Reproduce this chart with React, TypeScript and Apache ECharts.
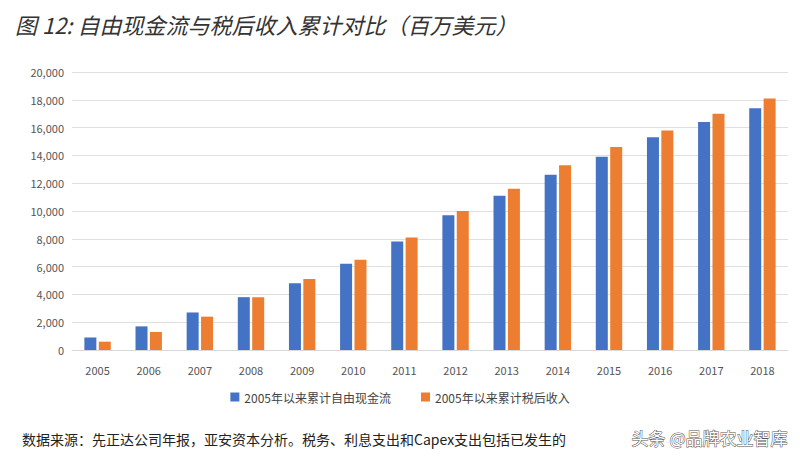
import { useEffect, useRef } from 'react';
import * as echarts from 'echarts';

const years = ['2005', '2006', '2007', '2008', '2009', '2010', '2011', '2012', '2013', '2014', '2015', '2016', '2017', '2018'];
const fcfCum = [900, 1700, 2700, 3800, 4800, 6200, 7800, 9700, 11100, 12600, 13900, 15300, 16400, 17400];
const netIncomeCum = [600, 1300, 2400, 3800, 5100, 6500, 8100, 10000, 11600, 13300, 14600, 15800, 17000, 18100];

const font = '"Noto Sans CJK SC", "Noto Sans", sans-serif';

export default function App() {
  const ref = useRef<HTMLDivElement>(null);

  useEffect(() => {
    if (!ref.current) return;
    const chart = echarts.init(ref.current, null, { renderer: 'svg' });
    chart.setOption({
      animation: false,
      backgroundColor: '#fff',
      textStyle: { fontFamily: font },
      title: {
        text: '图 12: 自由现金流与税后收入累计对比（百万美元）',
        left: 10,
        top: 8,
        textStyle: { fontSize: 22, fontStyle: 'italic', fontWeight: 'normal', color: '#333', fontFamily: font }
      },
      grid: { left: 72, right: 12, top: 72, bottom: 110 },
      legend: {
        bottom: 52,
        left: 'center',
        itemWidth: 9,
        itemHeight: 9,
        itemGap: 30,
        icon: 'rect',
        textStyle: { fontSize: 12, color: '#444' }
      },
      xAxis: {
        type: 'category',
        data: years,
        axisTick: { show: false },
        axisLine: { lineStyle: { color: '#d9d9d9' } },
        axisLabel: { color: '#555', fontSize: 11, margin: 14 }
      },
      yAxis: {
        type: 'value',
        min: 0,
        max: 20000,
        interval: 2000,
        axisLabel: { color: '#555', fontSize: 11, formatter: (v: number) => v.toLocaleString('en-US') },
        splitLine: { lineStyle: { color: '#e0e0e0' } }
      },
      series: [
        { name: '2005年以来累计自由现金流', type: 'bar', data: fcfCum, barWidth: 12, barGap: '20%', itemStyle: { color: '#4472C4' } },
        { name: '2005年以来累计税后收入', type: 'bar', data: netIncomeCum, barWidth: 12, itemStyle: { color: '#ED7D31' } }
      ],
      graphic: [
        {
          type: 'text',
          left: 22,
          top: 432,
          style: { text: '数据来源：先正达公司年报，亚安资本分析。税务、利息支出和Capex支出包括已发生的', fontSize: 14, fill: '#222', fontFamily: font }
        },
        {
          type: 'text',
          right: 12,
          top: 428,
          style: { text: '头条 @品牌农业智库', fontSize: 17, fill: '#fff', stroke: '#555', lineWidth: 1, fontFamily: font }
        }
      ]
    });
    return () => chart.dispose();
  }, []);

  return <div ref={ref} style={{ position: 'fixed', left: 0, top: 0, width: 800, height: 460 }} />;
}
